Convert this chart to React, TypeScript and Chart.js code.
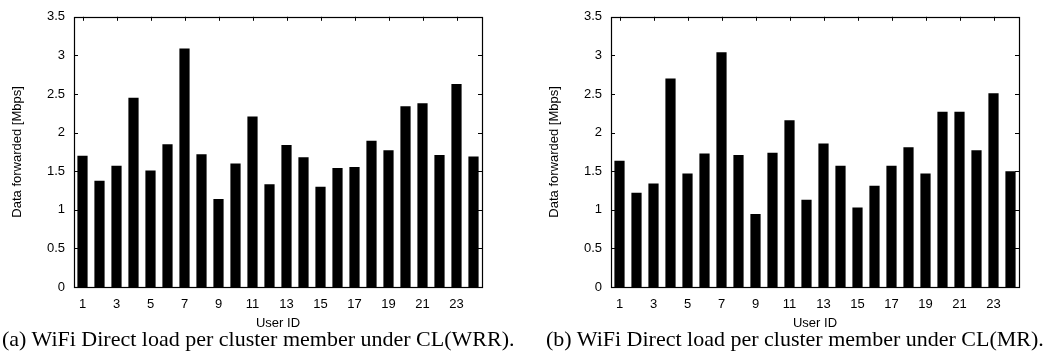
import React, { useEffect, useRef } from "react";
import { Chart, registerables } from "chart.js";

Chart.register(...registerables);

const userIds: string[] = Array.from({ length: 24 }, (_, i) => String(i + 1));

const loadWRR: number[] = [
  1.70, 1.375, 1.57, 2.45, 1.51, 1.85, 3.09, 1.72, 1.14, 1.60, 2.21, 1.33,
  1.84, 1.68, 1.30, 1.54, 1.555, 1.895, 1.77, 2.34, 2.38, 1.71, 2.63, 1.69,
];

const loadMR: number[] = [
  1.635, 1.22, 1.34, 2.70, 1.47, 1.73, 3.04, 1.71, 0.945, 1.74, 2.16, 1.13,
  1.86, 1.57, 1.03, 1.31, 1.57, 1.81, 1.47, 2.27, 2.27, 1.77, 2.51, 1.50,
];

const yTickValues: number[] = [0, 0.5, 1, 1.5, 2, 2.5, 3, 3.5];

const yTitle = "Data forwarded [Mbps]";
const xTitle = "User ID";
const captionA = "(a) WiFi Direct load per cluster member under CL(WRR).";
const captionB = "(b) WiFi Direct load per cluster member under CL(MR).";

const SANS = "'Liberation Sans', Arial, Helvetica, sans-serif";

const framePlugin = {
  id: "gnuplotFrame",
  afterDatasetsDraw(chart: any) {
    const { ctx, chartArea, scales } = chart;
    const { left, right, top, bottom } = chartArea;
    const x = scales.x;
    const y = scales.y;
    ctx.save();
    ctx.strokeStyle = "#000";
    ctx.lineWidth = 1;
    ctx.beginPath();
    yTickValues.forEach((v) => {
      const py = Math.round(y.getPixelForValue(v)) + 0.5;
      ctx.moveTo(left, py);
      ctx.lineTo(left + 4, py);
      ctx.moveTo(right, py);
      ctx.lineTo(right - 4, py);
    });
    userIds.forEach((_, i) => {
      if (i % 2 !== 0) return;
      const px = Math.round(x.getPixelForValue(i)) + 0.5;
      ctx.moveTo(px, top);
      ctx.lineTo(px, top + 4);
      ctx.moveTo(px, bottom);
      ctx.lineTo(px, bottom - 4);
    });
    ctx.stroke();
    ctx.lineWidth = 1.2;
    ctx.strokeRect(Math.round(left) + 0.5, Math.round(top) + 0.5, Math.round(right - left), Math.round(bottom - top));
    ctx.restore();
  },
};

function BarPanel({ data, left }: { data: number[]; left: number }) {
  const ref = useRef<HTMLCanvasElement | null>(null);
  useEffect(() => {
    if (!ref.current) return;
    const chart = new Chart(ref.current, {
      type: "bar",
      data: {
        labels: userIds,
        datasets: [
          {
            data,
            backgroundColor: "#000",
            borderColor: "#000",
            borderWidth: 0,
            barPercentage: 0.6,
            categoryPercentage: 1,
          },
        ],
      },
      options: {
        responsive: false,
        animation: false,
        devicePixelRatio: 1,
        layout: { padding: { top: 8, right: 18, left: 0, bottom: 0 } },
        plugins: {
          legend: { display: false },
          tooltip: { enabled: false },
          title: { display: false },
        },
        scales: {
          x: {
            type: "category",
            offset: true,
            grid: { display: false, drawTicks: false },
            border: { display: false },
            ticks: {
              autoSkip: false,
              maxRotation: 0,
              padding: 10,
              color: "#000",
              font: { family: SANS, size: 13 },
              callback: (_v: any, i: number) => (i % 2 === 0 ? userIds[i] : ""),
            },
            title: {
              display: true,
              text: xTitle,
              color: "#000",
              font: { family: SANS, size: 13 },
              padding: { top: 0, bottom: 4 },
            },
            afterFit: (s: any) => {
              s.height = 48;
            },
          },
          y: {
            min: 0,
            max: 3.5,
            grid: { display: false, drawTicks: false },
            border: { display: false },
            ticks: {
              stepSize: 0.5,
              padding: 9,
              color: "#000",
              font: { family: SANS, size: 13 },
              callback: (v: any) => String(Number(v)),
            },
            title: {
              display: true,
              text: yTitle,
              color: "#000",
              font: { family: SANS, size: 13 },
              padding: { top: 10, bottom: 0 },
            },
            afterFit: (s: any) => {
              s.width = 74;
            },
          },
        },
      },
      plugins: [framePlugin],
    });
    return () => chart.destroy();
  }, [data]);
  return (
    <canvas
      ref={ref}
      width={500}
      height={335}
      style={{ position: "absolute", left, top: 0, width: 500, height: 335 }}
    />
  );
}

const captionStyle: React.CSSProperties = {
  position: "absolute",
  top: 328,
  fontFamily: "'Liberation Serif', 'Times New Roman', serif",
  fontSize: 22,
  lineHeight: "22px",
  whiteSpace: "nowrap",
  color: "#000",
};

export default function App() {
  return (
    <div style={{ position: "absolute", left: 0, top: 0, width: 1047, height: 360, background: "#fff", overflow: "hidden" }}>
      <BarPanel data={loadWRR} left={0} />
      <BarPanel data={loadMR} left={537} />
      <div style={{ ...captionStyle, left: 2 }}>{captionA}</div>
      <div style={{ ...captionStyle, left: 546 }}>{captionB}</div>
    </div>
  );
}
